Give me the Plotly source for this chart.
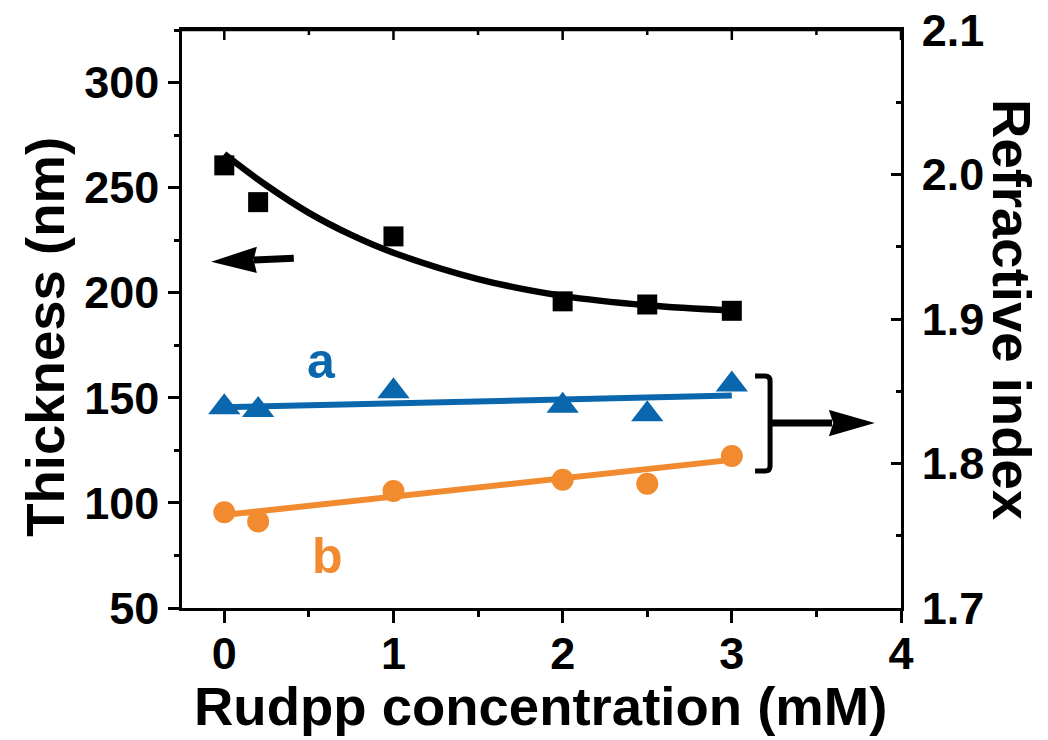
import plotly.graph_objects as go

# ---- data ----
conc = [0, 0.2, 1, 2, 2.5, 3]
thickness = [260.6, 243.1, 226.8, 195.9, 194.4, 191.4]
ri_a = [1.839, 1.837, 1.850, 1.840, 1.834, 1.8546]
ri_b = [1.7663, 1.7598, 1.781, 1.7887, 1.786, 1.8052]

fit_x = [0, 0.25, 0.5, 0.75, 1.0, 1.5, 2.0, 2.5, 3.0]
fit_thick = [266, 251, 238, 227.5, 219, 206.5, 198.5, 194, 191.5]
fit_ab_x = [0, 3]
fit_a = [1.839, 1.847]
fit_b = [1.7644, 1.8025]

x_range = [-0.25, 4]
y_range = [50, 325]
y2_range = [1.7, 2.1]
x_ticks = [0, 1, 2, 3, 4]
x_minor = [0.5, 1.5, 2.5, 3.5]
y_ticks = [50, 100, 150, 200, 250, 300]
y2_ticks = [1.7, 1.8, 1.9, 2.0, 2.1]

BLUE = "#0A66AD"
ORANGE = "#F28A2F"
FONT = "Liberation Sans"

# page body has an 8px default margin -> figure is 8px smaller and margins shifted
FIG_W, FIG_H = 1040, 732
M_L, M_R, M_T, M_B = 174, 147, 22, 132
PLOT_H = FIG_H - M_T - M_B
Y_PER_PX = (y_range[1] - y_range[0]) / PLOT_H

fig = go.Figure()

fig.add_trace(go.Scatter(x=fit_x, y=fit_thick, mode="lines", line=dict(color="black", width=6.5, shape="spline"),
                         showlegend=False, hoverinfo="skip"))
fig.add_trace(go.Scatter(x=conc, y=thickness, mode="markers",
                         marker=dict(symbol="square", size=20, color="black"), showlegend=False))
fig.add_trace(go.Scatter(x=fit_ab_x, y=fit_a, mode="lines", line=dict(color=BLUE, width=6),
                         yaxis="y2", showlegend=False, hoverinfo="skip"))
fig.add_trace(go.Scatter(x=conc, y=ri_a, mode="markers", yaxis="y2",
                         marker=dict(symbol="triangle-up", size=28, color=BLUE), showlegend=False))
fig.add_trace(go.Scatter(x=fit_ab_x, y=fit_b, mode="lines", line=dict(color=ORANGE, width=6),
                         yaxis="y2", showlegend=False, hoverinfo="skip"))
fig.add_trace(go.Scatter(x=conc, y=ri_b, mode="markers", yaxis="y2",
                         marker=dict(symbol="circle", size=22, color=ORANGE), showlegend=False))

# top frame line along the top of the y range
fig.add_trace(go.Scatter(x=x_range, y=[y_range[1], y_range[1]], mode="lines", cliponaxis=False,
                         line=dict(color="black", width=2.5), showlegend=False, hoverinfo="skip"))
# top inward ticks drawn as downward error bars from the top edge
fig.add_trace(go.Scatter(x=x_ticks, y=[y_range[1]] * len(x_ticks), mode="markers", cliponaxis=False,
                         marker=dict(size=1, color="rgba(0,0,0,0)"),
                         error_y=dict(type="data", symmetric=False, array=[0] * len(x_ticks),
                                      arrayminus=[10 * Y_PER_PX] * len(x_ticks),
                                      width=0, thickness=2.5, color="black"),
                         showlegend=False, hoverinfo="skip"))
fig.add_trace(go.Scatter(x=x_minor, y=[y_range[1]] * len(x_minor), mode="markers", cliponaxis=False,
                         marker=dict(size=1, color="rgba(0,0,0,0)"),
                         error_y=dict(type="data", symmetric=False, array=[0] * len(x_minor),
                                      arrayminus=[5 * Y_PER_PX] * len(x_minor),
                                      width=0, thickness=2.5, color="black"),
                         showlegend=False, hoverinfo="skip"))

tickfont = dict(family=FONT, size=45, color="black", weight="bold")
axcommon = dict(showline=True, linecolor="black", linewidth=2.5, tickcolor="black", tickwidth=2.5,
                showgrid=False, zeroline=False, tickfont=tickfont, automargin=False)

fig.update_layout(
    width=FIG_W, height=FIG_H,
    margin=dict(l=M_L, r=M_R, t=M_T, b=M_B),
    plot_bgcolor="white", paper_bgcolor="white",
    xaxis=dict(range=x_range, tickvals=x_ticks, ticks="outside", ticklen=12, mirror=True,
               ticklabelstandoff=-8,
               minor=dict(dtick=0.5, tick0=0, ticks="outside", ticklen=6, tickwidth=2.5, tickcolor="black"),
               **axcommon),
    yaxis=dict(range=y_range, tickvals=y_ticks, ticks="outside", ticklen=11,
               minor=dict(dtick=25, tick0=50, ticks="outside", ticklen=5, tickwidth=2.5, tickcolor="black"),
               **axcommon),
    yaxis2=dict(range=y2_range, tickvals=y2_ticks, tickformat=".1f", overlaying="y", side="right",
                anchor="x", ticks="inside", ticklen=10, ticklabelstandoff=9, ticklabeloverflow="allow",
                minor=dict(dtick=0.05, tick0=1.7, ticks="inside", ticklen=5, tickwidth=2.5, tickcolor="black"),
                **axcommon),
)

titlefont = dict(family=FONT, size=54.5, color="black", weight="bold")
fig.add_annotation(text="Rudpp concentration (mM)", xref="paper", yref="paper", x=0.498, y=-0.171,
                   xanchor="center", yanchor="middle", showarrow=False, font=titlefont)
fig.add_annotation(text="Thickness (nm)", xref="paper", yref="paper", x=-0.19, y=0.47,
                   xanchor="center", yanchor="middle", textangle=-90, showarrow=False, font=titlefont)
fig.add_annotation(text="Refractive index", xref="paper", yref="paper", x=1.154, y=0.516,
                   xanchor="center", yanchor="middle", textangle=90, showarrow=False, font=titlefont)

labfont = dict(family=FONT, size=50, weight="bold")
fig.add_annotation(text="a", x=0.572, y=167.3, xref="x", yref="y", showarrow=False,
                   font=dict(color=BLUE, **labfont))
fig.add_annotation(text="b", x=0.61, y=74.6, xref="x", yref="y", showarrow=False,
                   font=dict(color=ORANGE, **labfont))

# left arrow (pointing to left axis), pixel-sized, anchored at tip
fig.add_shape(type="path", xref="x", yref="y", xsizemode="pixel", ysizemode="pixel",
              xanchor=-0.062, yanchor=214.8,
              path="M40,1.7 L80,3.3", line=dict(color="black", width=7))
fig.add_shape(type="path", xref="x", yref="y", xsizemode="pixel", ysizemode="pixel",
              xanchor=-0.062, yanchor=214.8,
              path="M0,0 L42,13.7 L39,1.7 L42,-10.3 Z", fillcolor="black", line=dict(color="black", width=1.5))

# bracket + arrow pointing to right axis
fig.add_shape(type="path", xref="x", yref="y2", xsizemode="pixel", ysizemode="pixel",
              xanchor=3.226, yanchor=1.828,
              path="M-15,47 L-5,47 Q0,47 0,42 L0,-43 Q0,-48 -5,-48 L-15,-48",
              line=dict(color="black", width=5))
fig.add_shape(type="path", xref="x", yref="y2", xsizemode="pixel", ysizemode="pixel",
              xanchor=3.226, yanchor=1.828,
              path="M-2,0 L62,0", line=dict(color="black", width=7))
fig.add_shape(type="path", xref="x", yref="y2", xsizemode="pixel", ysizemode="pixel",
              xanchor=3.226, yanchor=1.828,
              path="M60,12 L102,0 L60,-12 L64,0 Z", fillcolor="black", line=dict(color="black", width=1.5))

fig.write_html("out.html")
